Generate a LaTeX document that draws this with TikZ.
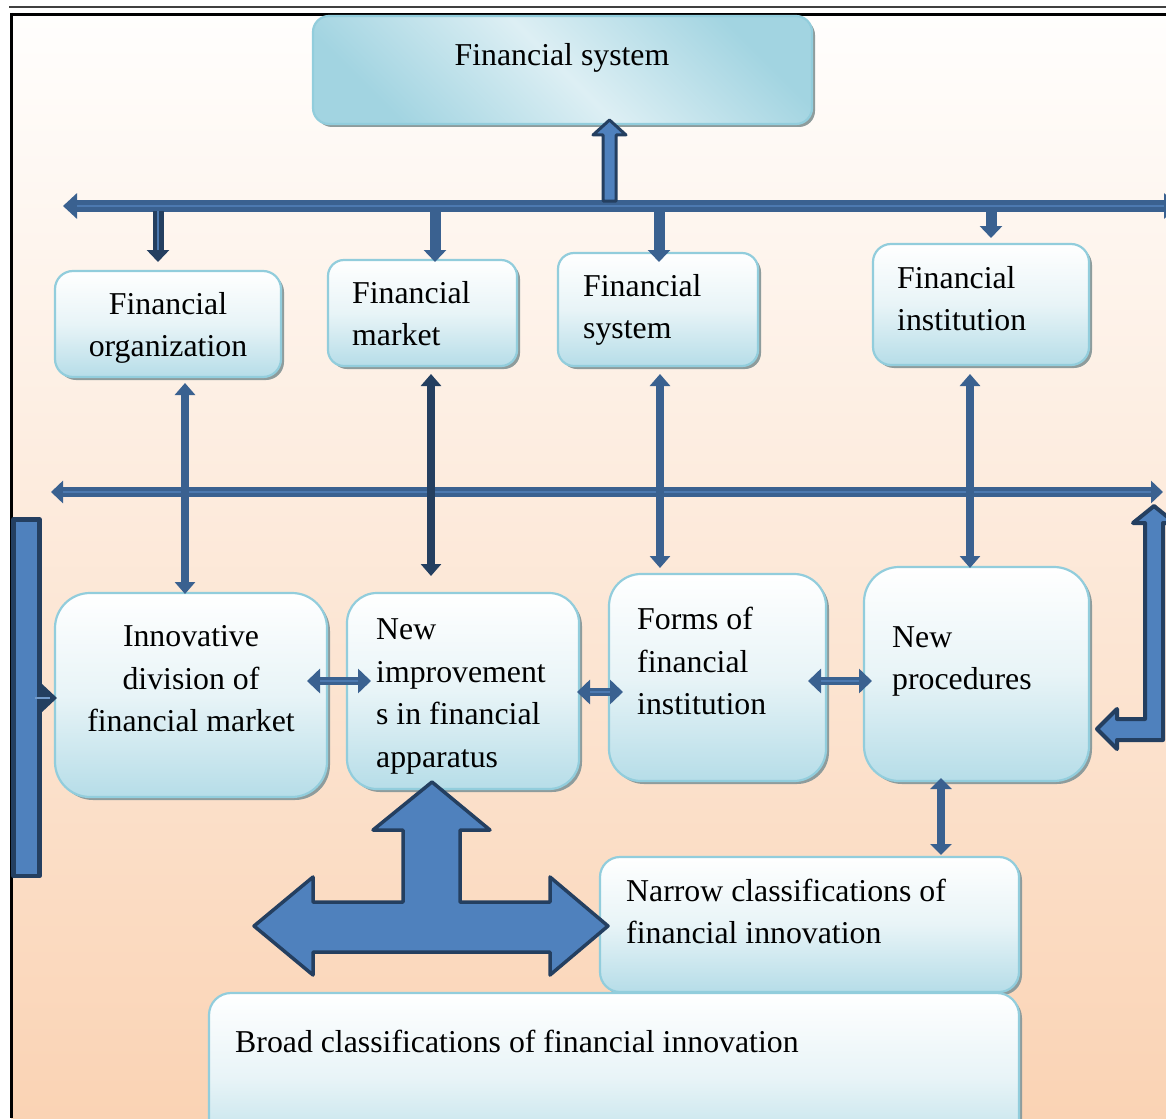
\documentclass[tikz,border=0pt]{standalone}
\usepackage{fontspec}
\setmainfont{Liberation Serif}
\usetikzlibrary{arrows.meta,shadows,calc}
\definecolor{darkc}{HTML}{243F60}
\definecolor{connc}{HTML}{3A6190}
\definecolor{fillc}{HTML}{4F81BD}
\definecolor{hlc}{HTML}{4C79B0}
\definecolor{bordc}{HTML}{92CDDC}
\definecolor{boxb}{HTML}{B6DDE8}
\definecolor{boxm}{HTML}{E8F4F7}
\definecolor{shc}{HTML}{8E9C9C}
\definecolor{bgtop}{HTML}{FFFEFD}
\definecolor{bgbot}{HTML}{FAD3B4}
\definecolor{topd}{HTML}{A2D4E1}
\definecolor{topl}{HTML}{DDEFF4}
\begin{document}
\begin{tikzpicture}[x=1pt,y=-1pt,
  box/.style={rectangle, draw=bordc, line width=2.2pt, top color=white, bottom color=boxb, middle color=boxm,
    drop shadow={shadow xshift=3pt, shadow yshift=-3pt, fill=shc, opacity=1}, inner sep=0pt},
  txt/.style={inner sep=0pt, font=\fontsize{31.8}{42.7}\selectfont, text=black},
  conn/.style={draw=connc, line cap=butt},
  hl/.style={draw=hlc, line width=1.6pt},
  blockarr/.style={draw=darkc, fill=fillc, line join=round},
  bartip/.tip={Triangle[width=25pt,length=14pt]},
  midtip/.tip={Triangle[width=22pt,length=12pt]},
  vtip/.tip={Triangle[width=20pt,length=12pt]},
  dtip/.tip={Triangle[width=22pt,length=12pt]},
  htip/.tip={Triangle[width=24pt,length=13pt]}
]
\useasboundingbox (0,0) rectangle (1166,1118);
% background and frame
\fill[white] (0,0) rectangle (1166,1118);
\shade[top color=bgtop, bottom color=bgbot] (11,15) rectangle (1166,1118);
\draw[black!75, line width=1.8pt] (9,7.3) -- (1166,7.3);
\draw[black, line width=2.6pt] (10,14.3) -- (1166,14.3);
\draw[black, line width=2.6pt] (11.3,13) -- (11.3,1118);

% boxes
\node[box, rounded corners=16pt, left color=topd, right color=topd, middle color=topl, shading angle=135,
  minimum width=499pt, minimum height=108pt] (fsys) at (562.5,70) {};
\node[box, rounded corners=18pt, minimum width=226pt, minimum height=106pt] (org) at (168,324) {};
\node[box, rounded corners=16pt, minimum width=189pt, minimum height=106pt] (mkt) at (422.5,313) {};
\node[box, rounded corners=16pt, minimum width=200pt, minimum height=113pt] (sys) at (658,309.5) {};
\node[box, rounded corners=18pt, minimum width=216pt, minimum height=121pt] (inst) at (981,304.5) {};
\node[box, rounded corners=35pt, minimum width=272pt, minimum height=204pt] (innov) at (191,695) {};
\node[box, rounded corners=30pt, minimum width=232pt, minimum height=196pt] (impr) at (463,691) {};
\node[box, rounded corners=32pt, minimum width=217pt, minimum height=207pt] (forms) at (717.5,677.5) {};
\node[box, rounded corners=35pt, minimum width=225pt, minimum height=214pt] (proc) at (976.5,674) {};
\node[box, rounded corners=20pt, minimum width=419pt, minimum height=135pt] (narrow) at (809.5,924.5) {};
\node[box, rounded corners=22pt, minimum width=810pt, minimum height=170pt] (broad) at (614,1078) {};

% texts
\node[txt] (tfsys) at (562,56.5) {Financial system\strut};
\node[txt, align=center] (torg) at (168,327) {Financial\strut\\organization\strut};
\node[txt, anchor=west, align=left] (tmkt) at (352,316) {Financial\strut\\market\strut};
\node[txt, anchor=west, align=left] (tsys) at (583,309) {Financial\strut\\system\strut};
\node[txt, anchor=west, align=left] (tinst) at (897,301) {Financial\strut\\institution\strut};
\node[txt, align=center] (tinnov) at (191,680.5) {Innovative\strut\\division of\strut\\financial market\strut};
\node[txt, anchor=west, align=left] (timpr) at (376,695) {New\strut\\improvement\strut\\s in financial\strut\\apparatus\strut};
\node[txt, anchor=west, align=left] (tforms) at (637,663.5) {Forms of\strut\\financial\strut\\institution\strut};
\node[txt, anchor=west, align=left] (tproc) at (892,660) {New\strut\\procedures\strut};
\node[txt, anchor=west, align=left] (tnarrow) at (626,914) {Narrow classifications of\strut\\financial innovation\strut};
\node[txt, anchor=west, align=left] (tbroad) at (235,1043.5) {Broad classifications of financial innovation\strut};

% top bar
\coordinate (tbL) at (63,206);
\coordinate (tbR) at (1178,206);
\draw[conn, line width=12.5pt, bartip-bartip] (tbL) -- (tbR);
\draw[hl, shorten <=14pt, shorten >=14pt] (tbL) -- (tbR);

% up arrow to financial system
\draw[blockarr, line width=3pt] (603,201) -- (603,135) -- (593,135) -- (609.5,120) -- (626,135) -- (616,135) -- (616,201) -- cycle;

% down arrows from top bar
\coordinate (d1) at (158,262);
\coordinate (d2) at (435,262);
\coordinate (d3) at (659,262);
\coordinate (d4) at (991,238);
\draw[draw=darkc, line width=11pt, -dtip] (d1 |- 0,211) -- (d1);
\draw[hl, shorten >=12pt] (d1 |- 0,211) -- (d1);
\foreach \d in {d2,d3,d4}{
  \draw[conn, line width=11pt, -dtip] (\d |- 0,211) -- (\d);
}

% middle bar
\coordinate (mbL) at (51,492);
\coordinate (mbR) at (1163,492);
\draw[conn, line width=10pt, midtip-midtip] (mbL) -- (mbR);
\draw[hl, line width=1.3pt, shorten <=12pt, shorten >=12pt] (mbL) -- (mbR);

% vertical double arrows
\coordinate (v1a) at (185,383); \coordinate (v1b) at (185,594);
\coordinate (v2a) at (431,374); \coordinate (v2b) at (431,576);
\coordinate (v3a) at (660,374); \coordinate (v3b) at (660,568);
\coordinate (v4a) at (970,374); \coordinate (v4b) at (970,568);
\draw[conn, line width=8.5pt, vtip-vtip] (v1a) -- (v1b);
\draw[draw=darkc, line width=8.5pt, vtip-vtip] (v2a) -- (v2b);
\draw[conn, line width=8.5pt, vtip-vtip] (v3a) -- (v3b);
\draw[conn, line width=8.5pt, vtip-vtip] (v4a) -- (v4b);

% small horizontal double arrows
\coordinate (h1a) at (307,681); \coordinate (h1b) at (371,681);
\coordinate (h2a) at (577,692); \coordinate (h2b) at (623,692);
\coordinate (h3a) at (808,681); \coordinate (h3b) at (872,681);
\foreach \a/\b in {h1a/h1b,h2a/h2b,h3a/h3b}{
  \draw[conn, line width=8pt, htip-htip] (\a) -- (\b);
  \draw[hl, line width=1.2pt, shorten <=13pt, shorten >=13pt] (\a) -- (\b);
}
% vertical arrow procedures - narrow
\coordinate (pv1) at (941,778); \coordinate (pv2) at (941,855);
\draw[conn, line width=8.5pt, {Triangle[width=21pt,length=11pt]}-{Triangle[width=21pt,length=11pt]}] (pv1) -- (pv2);

% left bar with small arrow
\draw[blockarr, line width=4.5pt] (13.5,519.5) rectangle (39.5,876);
\fill[darkc] (41,683) -- (57,698) -- (41,713) -- cycle;
\draw[draw=fillc!80!white, line width=2pt] (35,698) -- (50,698);

% right L-shaped arrow
\draw[blockarr, line width=4pt] (1154,506) -- (1175,523) -- (1163,523) -- (1163,740) -- (1117,740) -- (1117,749)
  -- (1097,729) -- (1117,709) -- (1117,719) -- (1145,719) -- (1145,523) -- (1133,523) -- cycle;

% big T arrow
\draw[blockarr, line width=3.5pt] (432,782) -- (490,830) -- (460,830) -- (460,902) -- (550,902) -- (550,877)
  -- (608,926) -- (550,975) -- (550,952) -- (313,952) -- (313,975) -- (254,926) -- (313,877) -- (313,902)
  -- (403,902) -- (403,830) -- (373,830) -- cycle;
\end{tikzpicture}
\end{document}
